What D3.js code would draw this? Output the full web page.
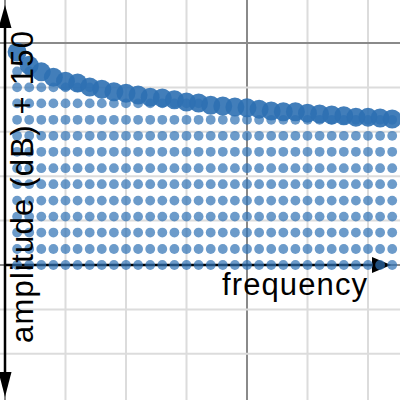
<!DOCTYPE html>
<html>
<head>
<meta charset="utf-8">
<script src="https://cdn.jsdelivr.net/npm/d3@7"></script>
<style>
    body { margin: 0; background: #fff; }
    svg { display: block; }
</style>
</head>
<body>
<script>
"use strict";
// frequency bins (column index) and the amplitude (dB + 150) of each bin
const frequency = [1, 2, 3, 4, 5, 6, 7, 8, 9, 10, 11, 12, 13, 14, 15, 16,
    17, 18, 19, 20, 21, 22, 23, 24, 25, 26, 27, 28, 29, 30, 31, 32];
const amplitude = [48.0, 45.0, 43.5, 42.3, 41.4, 41.0, 40.1, 39.6, 39.0, 38.7, 38.3, 37.8, 37.6, 37.2, 36.7, 36.5,
    36.0, 35.8, 35.6, 35.4, 35.1, 34.7, 34.5, 34.5, 34.2, 34.0, 33.8, 33.6, 33.3, 33.3, 33.1, 32.9];
// quantisation levels drawn as small dots under each bin
const levels = [0, 3.6, 7.3, 10.9, 14.5, 18.2, 21.8, 25.5, 29.1, 32.7, 36.4, 40, 43.6];
// grid lines
const xGrid = [0, 5, 10, 15, 20, 25, 30];
const yGrid = [-20, -10, 0, 10, 20, 30, 40, 50];

(function(){
    const measurements = {
        width: 400,
        height: 400
    }

    const svgContainer = d3.select('body').append('svg')
        .attr('width', measurements.width)
        .attr('height', measurements.height)

    // scales, anchored on the grid
    const scaleX = d3.scaleLinear().domain([0, 20]).range([5, 247])
    const scaleY = d3.scaleLinear().domain([0, 50]).range([265, 43])

    drawGrid()
    drawArrows()
    plotData()
    axisLabels()

    function drawGrid() {
        svgContainer.selectAll('.vgrid')
            .data(xGrid)
            .enter()
            .append('line')
                .attr('x1', d => scaleX(d))
                .attr('x2', d => scaleX(d))
                .attr('y1', 0)
                .attr('y2', measurements.height)
                .attr('stroke', d => d % 20 === 0 ? '#8a8a8a' : '#dcdcdc')
                .attr('stroke-width', 2)

        svgContainer.selectAll('.hgrid')
            .data(yGrid)
            .enter()
            .append('line')
                .attr('x1', 0)
                .attr('x2', measurements.width)
                .attr('y1', d => scaleY(d))
                .attr('y2', d => scaleY(d))
                .attr('stroke', d => d % 50 === 0 ? '#8a8a8a' : '#dcdcdc')
                .attr('stroke-width', 2)
    }

    function drawArrows() {
        const x0 = scaleX(0)
        const y0 = scaleY(0)
        // vertical arrow, both ends
        svgContainer.append('line')
            .attr('x1', x0).attr('x2', x0)
            .attr('y1', 20).attr('y2', 380)
            .attr('stroke', '#000').attr('stroke-width', 2.5)
        svgContainer.append('path')
            .attr('d', `M${x0},5 L${x0 - 6.5},28 L${x0 + 6.5},28 Z`)
            .attr('fill', '#000')
        svgContainer.append('path')
            .attr('d', `M${x0},397 L${x0 - 6.5},372 L${x0 + 6.5},372 Z`)
            .attr('fill', '#000')

        // horizontal arrow
        svgContainer.append('line')
            .attr('x1', x0).attr('x2', 378)
            .attr('y1', y0).attr('y2', y0)
            .attr('stroke', '#000').attr('stroke-width', 2.5)
        svgContainer.append('path')
            .attr('d', `M391,${y0} L372,${y0 - 8} L372,${y0 + 8} Z`)
            .attr('fill', '#000')
    }

    function plotData() {
        let small = []
        frequency.forEach((f, i) => {
            levels.forEach(l => {
                if (l <= amplitude[i]) small.push({ f: f, l: l })
            })
        })

        svgContainer.selectAll('.small')
            .data(small)
            .enter()
            .append('circle')
                .attr('cx', d => scaleX(d.f))
                .attr('cy', d => scaleY(d.l))
                .attr('r', 4.9)
                .attr('fill', '#2d70b3')
                .attr('fill-opacity', 0.7)

        svgContainer.selectAll('.big')
            .data(frequency)
            .enter()
            .append('circle')
                .attr('cx', d => scaleX(d))
                .attr('cy', (d, i) => scaleY(amplitude[i]))
                .attr('r', 9.5)
                .attr('fill', '#2d70b3')
                .attr('fill-opacity', 0.9)
    }

    function axisLabels() {
        svgContainer.append('text')
            .attr('x', 222)
            .attr('y', 295)
            .attr('font-family', 'Liberation Sans, Arial, sans-serif')
            .attr('font-size', 31)
            .attr('textLength', 145)
            .attr('lengthAdjust', 'spacing')
            .attr('fill', '#000')
            .text('frequency')

        svgContainer.append('text')
            .attr('transform', 'translate(33,343) rotate(-90)')
            .attr('font-family', 'Liberation Sans, Arial, sans-serif')
            .attr('font-size', 31)
            .attr('textLength', 312)
            .attr('lengthAdjust', 'spacing')
            .attr('fill', '#000')
            .text('amplitude (dB) + 150')
    }
})()
</script>
</body>
</html>
